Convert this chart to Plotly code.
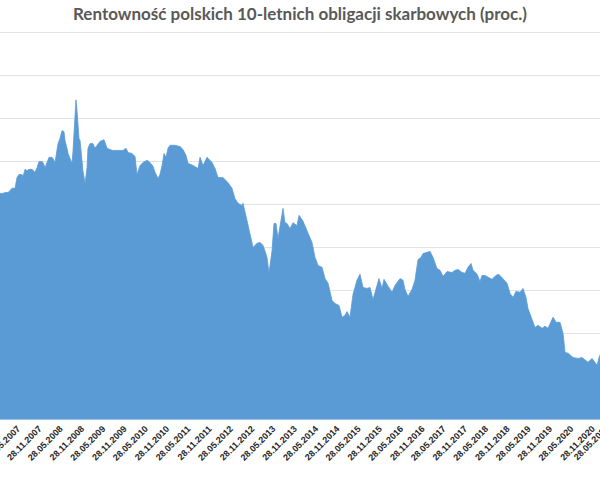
import plotly.graph_objects as go
import pandas as pd

dates = [
    "2006-12-28", "2007-01-23", "2007-02-09", "2007-03-07", "2007-03-24", "2007-04-10", "2007-05-06",
    "2007-05-23", "2007-06-09", "2007-07-05", "2007-07-13", "2007-07-31", "2007-08-17", "2007-09-03",
    "2007-09-29", "2007-10-24", "2007-11-11", "2007-11-28", "2007-12-24", "2008-01-01", "2008-01-18",
    "2008-02-04", "2008-02-22", "2008-03-18", "2008-03-27", "2008-04-13", "2008-04-30", "2008-05-09",
    "2008-05-26", "2008-06-12", "2008-06-29", "2008-07-08", "2008-07-25", "2008-08-03", "2008-08-20",
    "2008-09-06", "2008-09-15", "2008-10-02", "2008-10-10", "2008-10-19", "2008-11-05", "2008-11-14",
    "2008-12-01", "2008-12-09", "2008-12-27", "2009-01-13", "2009-01-21", "2009-02-08", "2009-03-05",
    "2009-03-22", "2009-04-09", "2009-05-04", "2009-06-08", "2009-07-04", "2009-07-29", "2009-08-24",
    "2009-10-06", "2009-11-18", "2009-12-14", "2009-12-31", "2010-02-03", "2010-03-01", "2010-03-18",
    "2010-04-13", "2010-05-09", "2010-06-12", "2010-07-08", "2010-08-02", "2010-08-20", "2010-09-14",
    "2010-10-01", "2010-10-19", "2010-11-05", "2010-11-22", "2010-12-09", "2010-12-26", "2011-02-07",
    "2011-03-22", "2011-04-17", "2011-05-13", "2011-05-30", "2011-07-12", "2011-08-24", "2011-09-10",
    "2011-10-06", "2011-11-09", "2011-12-22", "2012-01-17", "2012-02-11", "2012-03-25", "2012-05-07",
    "2012-06-10", "2012-07-06", "2012-08-01", "2012-09-04", "2012-09-13", "2012-10-17", "2012-11-12",
    "2012-12-08", "2013-01-11", "2013-02-06", "2013-03-04", "2013-04-07", "2013-04-24", "2013-05-20",
    "2013-06-06", "2013-06-23", "2013-07-10", "2013-07-28", "2013-08-22", "2013-09-08", "2013-09-26",
    "2013-10-21", "2013-11-16", "2013-12-20", "2014-01-07", "2014-02-10", "2014-03-16", "2014-04-28",
    "2014-05-24", "2014-06-19", "2014-07-23", "2014-08-18", "2014-09-13", "2014-10-17", "2014-11-12",
    "2014-12-16", "2015-01-11", "2015-02-05", "2015-02-22", "2015-03-20", "2015-04-15", "2015-05-19",
    "2015-06-14", "2015-07-10", "2015-08-13", "2015-09-08", "2015-10-04", "2015-10-21", "2015-11-24",
    "2015-12-20", "2016-01-06", "2016-02-10", "2016-03-15", "2016-04-10", "2016-05-23", "2016-06-17",
    "2016-07-04", "2016-07-30", "2016-09-03", "2016-09-28", "2016-10-24", "2016-11-19", "2016-12-06",
    "2017-01-10", "2017-02-04", "2017-03-02", "2017-04-05", "2017-05-01", "2017-05-27", "2017-06-30",
    "2017-08-12", "2017-09-07", "2017-10-03", "2017-11-06", "2017-12-02", "2017-12-27", "2018-01-22",
    "2018-02-08", "2018-03-15", "2018-04-09", "2018-04-26", "2018-05-22", "2018-06-17", "2018-07-21",
    "2018-08-16", "2018-09-11", "2018-09-28", "2018-10-24", "2018-11-27", "2018-12-23", "2019-01-18",
    "2019-02-12", "2019-03-19", "2019-04-13", "2019-05-09", "2019-05-26", "2019-06-30", "2019-07-25",
    "2019-08-20", "2019-09-24", "2019-10-19", "2019-11-14", "2019-12-27", "2020-01-22", "2020-02-25",
    "2020-03-22", "2020-04-08", "2020-05-04", "2020-06-16", "2020-07-29", "2020-09-01", "2020-09-27",
    "2020-10-22", "2020-11-26", "2020-12-22", "2021-01-08", "2021-01-25", "2021-02-20",
]

yields = [
    5.25, 5.25, 5.27, 5.27, 5.32, 5.37, 5.37,
    5.62, 5.69, 5.69, 5.64, 5.81, 5.78, 5.81,
    5.81, 5.74, 5.85, 5.99, 5.99, 5.97, 5.85,
    5.97, 6.09, 6.09, 6.06, 5.97, 6.20, 6.41,
    6.53, 6.71, 6.69, 6.48, 6.30, 6.18, 6.06,
    5.95, 6.25, 7.18, 7.43, 7.18, 6.53, 6.48,
    6.02, 5.78, 5.48, 5.85, 6.30, 6.41, 6.41,
    6.30, 6.37, 6.46, 6.50, 6.30, 6.27, 6.25,
    6.25, 6.25, 6.30, 6.20, 6.18, 6.11, 5.69,
    5.90, 5.97, 6.02, 5.97, 5.88, 5.74, 5.60,
    5.69, 5.90, 6.18, 6.09, 6.30, 6.37, 6.37,
    6.34, 6.27, 6.13, 5.95, 5.90, 5.83, 6.09,
    5.90, 6.09, 5.97, 5.83, 5.62, 5.62, 5.50,
    5.37, 5.13, 5.02, 4.97, 5.02, 4.62, 4.32,
    3.99, 4.09, 4.11, 4.04, 3.76, 3.39, 3.92,
    4.55, 4.55, 4.20, 4.46, 4.90, 4.57, 4.55,
    4.43, 4.57, 4.50, 4.74, 4.60, 4.39, 4.11,
    3.76, 3.57, 3.53, 3.27, 3.16, 2.76, 2.69,
    2.64, 2.37, 2.41, 2.50, 2.37, 2.90, 3.23,
    3.37, 3.06, 3.04, 3.06, 2.78, 2.95, 3.27,
    3.04, 3.25, 3.09, 2.95, 3.11, 3.27, 3.23,
    3.02, 2.85, 3.02, 3.23, 3.71, 3.76, 3.85,
    3.88, 3.90, 3.76, 3.50, 3.46, 3.32, 3.43,
    3.41, 3.46, 3.48, 3.41, 3.39, 3.53, 3.62,
    3.46, 3.37, 3.20, 3.34, 3.34, 3.30, 3.25,
    3.32, 3.37, 3.34, 3.27, 3.16, 2.92, 2.83,
    2.97, 2.95, 3.04, 2.83, 2.57, 2.34, 2.13,
    2.18, 2.11, 2.16, 2.11, 2.37, 2.25, 2.25,
    1.99, 1.55, 1.53, 1.43, 1.41, 1.43, 1.37,
    1.32, 1.41, 1.30, 1.25, 1.43, 1.60,
]

tick_dates = [
    "2007-05-28", "2007-11-28", "2008-05-28", "2008-11-28", "2009-05-28", "2009-11-28",
    "2010-05-28", "2010-11-28", "2011-05-28", "2011-11-28", "2012-05-28", "2012-11-28",
    "2013-05-28", "2013-11-28", "2014-05-28", "2014-11-28", "2015-05-28", "2015-11-28",
    "2016-05-28", "2016-11-28", "2017-05-28", "2017-11-28", "2018-05-28", "2018-11-28",
    "2019-05-28", "2019-11-28", "2020-05-28", "2020-11-28",
]
tick_labels = [
    "28.05.2007", "28.11.2007", "28.05.2008", "28.11.2008", "28.05.2009", "28.11.2009",
    "28.05.2010", "28.11.2010", "28.05.2011", "28.11.2011", "28.05.2012", "28.11.2012",
    "28.05.2013", "28.11.2013", "28.05.2014", "28.11.2014", "28.05.2015", "28.11.2015",
    "28.05.2016", "28.11.2016", "28.05.2017", "28.11.2017", "28.05.2018", "28.11.2018",
    "28.05.2019", "28.11.2019", "28.05.2020", "28.11.2020",
]
# label that falls just past the visible window (partially visible at the right edge)
extra_tick_date = "2021-05-28"
extra_tick_label = "28.05.2021"

x_range = ["2006-12-28", "2021-02-02"]
y_range = [0, 9.03]
title_text = "Rentowność polskich 10-letnich obligacji skarbowych (proc.)"

tick_font = dict(family="Liberation Sans, Arial, sans-serif", size=9, color="#262626", weight="bold")

fig = go.Figure()
fig.add_trace(go.Scatter(
    x=dates, y=yields, mode="lines",
    line=dict(color="#5B9BD5", width=0.8),
    fill="tozeroy", fillcolor="#5B9BD5",
    hoverinfo="x+y", showlegend=False,
))

# paper position of the off-range label, derived from the axis range
r0, r1 = pd.Timestamp(x_range[0]), pd.Timestamp(x_range[1])
extra_x = (pd.Timestamp(extra_tick_date) - r0) / (r1 - r0)

fig.add_annotation(
    x=extra_x, y=0, xref="paper", yref="paper",
    text=extra_tick_label, showarrow=False, textangle=-45,
    xanchor="right", yanchor="top", yshift=-2,
    font=tick_font,
)

fig.update_layout(
    width=600, height=480,
    margin=dict(l=0, r=0, t=31, b=61, pad=0),
    paper_bgcolor="white", plot_bgcolor="white",
    title=dict(
        text=title_text, x=0.5, xanchor="center",
        y=1 - 14 / 480, yref="container", yanchor="middle",
        font=dict(family="Lato, Open Sans, sans-serif", size=17, color="#595959", weight="bold"),
    ),
    xaxis=dict(
        type="date",
        range=x_range,
        tickmode="array", tickvals=tick_dates, ticktext=tick_labels,
        tickangle=-45,
        tickfont=tick_font,
        ticklabeloverflow="allow",
        showgrid=False, zeroline=False,
        showline=True, linecolor="#9dc3e6", linewidth=1,
        ticks="", automargin=False,
    ),
    yaxis=dict(
        range=y_range, tickmode="linear", tick0=0, dtick=1,
        showgrid=True, gridcolor="#e3e3e3", gridwidth=1,
        showticklabels=False, zeroline=False, showline=False,
        automargin=False,
    ),
)

fig.write_html("out.html")
